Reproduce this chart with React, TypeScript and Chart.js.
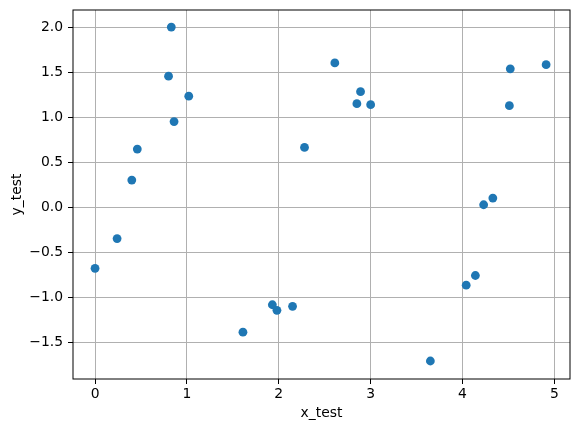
import { useEffect, useRef } from 'react';
import Chart, { ChartConfiguration, Plugin } from 'chart.js/auto';

// values
const xTest = [
  0.0, 0.24, 0.4, 0.46, 0.8, 0.83, 0.86, 1.02, 1.61, 1.93, 1.98, 2.15, 2.28,
  2.61, 2.85, 2.89, 3.0, 3.65, 4.04, 4.14, 4.23, 4.33, 4.52, 4.51, 4.91,
];
const yTest = [
  -0.68, -0.35, 0.3, 0.645, 1.455, 2.0, 0.95, 1.233, -1.39, -1.085, -1.147, -1.103, 0.663,
  1.602, 1.149, 1.282, 1.138, -1.71, -0.868, -0.76, 0.026, 0.1, 1.536, 1.127, 1.583,
];
const xTicks = [0, 1, 2, 3, 4, 5];
const yTicks = [-1.5, -1.0, -0.5, 0.0, 0.5, 1.0, 1.5, 2.0];

const FONT = 'DejaVu Sans';
const SIZE = 13.9;

const frame: Plugin<'scatter'> = {
  id: 'frame',
  afterDraw(chart) {
    const { ctx, chartArea: a } = chart;
    ctx.save();
    ctx.strokeStyle = '#000';
    ctx.lineWidth = 1;
    ctx.strokeRect(a.left, a.top, a.right - a.left, a.bottom - a.top);
    ctx.restore();
  },
};

const ScatterPlot = () => {
  const chartRef = useRef<HTMLCanvasElement | null>(null);
  const chartInstance = useRef<Chart | null>(null);

  useEffect(() => {
    document.body.style.margin = '0';
    if (chartInstance.current) {
      chartInstance.current.destroy();
    }
    if (chartRef.current) {
      const ctx = chartRef.current.getContext('2d');
      if (ctx) {
        const config: ChartConfiguration<'scatter', { x: number; y: number }[], string> = {
          type: 'scatter',
          data: {
            datasets: [
              {
                label: 'test',
                data: xTest.map((x, i) => ({ x, y: yTest[i] })),
                backgroundColor: '#1f77b4',
                borderWidth: 0,
                pointRadius: 4.4,
                pointHoverRadius: 4.4,
              },
            ],
          },
          options: {
            responsive: false,
            animation: false,
            layout: { padding: { top: 10, right: 8, left: 0, bottom: 0 } },
            plugins: {
              legend: { display: false },
              tooltip: { enabled: false },
            },
            scales: {
              x: {
                type: 'linear',
                min: -0.24,
                max: 5.17,
                afterBuildTicks: (scale) => {
                  scale.ticks = xTicks.map((v) => ({ value: v }));
                },
                afterFit: (scale) => {
                  scale.height = 53;
                  scale.paddingLeft = 0;
                  scale.paddingRight = 0;
                },
                grid: { color: '#b0b0b0', tickColor: '#000', tickLength: 5, lineWidth: 1 },
                border: { display: false },
                ticks: {
                  color: '#000',
                  padding: 2,
                  maxRotation: 0,
                  font: { family: FONT, size: SIZE },
                  callback: (v) => String(v),
                },
                title: {
                  display: true,
                  text: 'x_test',
                  color: '#000',
                  font: { family: FONT, size: SIZE },
                  padding: { top: 4, bottom: 10 },
                },
              },
              y: {
                type: 'linear',
                min: -1.91,
                max: 2.19,
                afterBuildTicks: (scale) => {
                  scale.ticks = yTicks.map((v) => ({ value: v }));
                },
                afterFit: (scale) => {
                  scale.width = 73;
                  scale.paddingTop = 0;
                  scale.paddingBottom = 0;
                },
                grid: { color: '#b0b0b0', tickColor: '#000', tickLength: 5, lineWidth: 1 },
                border: { display: false },
                ticks: {
                  color: '#000',
                  padding: 5,
                  font: { family: FONT, size: SIZE },
                  callback: (v) => Number(v).toFixed(1).replace('-', '\u2212'),
                },
                title: {
                  display: true,
                  text: 'y_test',
                  color: '#000',
                  font: { family: FONT, size: SIZE },
                  padding: { top: 9, bottom: 4 },
                },
              },
            },
          },
          plugins: [frame],
        };
        chartInstance.current = new Chart(ctx, config);
      }
    }
    return () => {
      if (chartInstance.current) {
        chartInstance.current.destroy();
      }
    };
  }, []);

  return (
    <canvas ref={chartRef} width={578} height={432} style={{ display: 'block' }} />
  );
};

export default function App() {
  return (
    <div style={{ width: 578, height: 432 }}>
      <ScatterPlot />
    </div>
  );
}
